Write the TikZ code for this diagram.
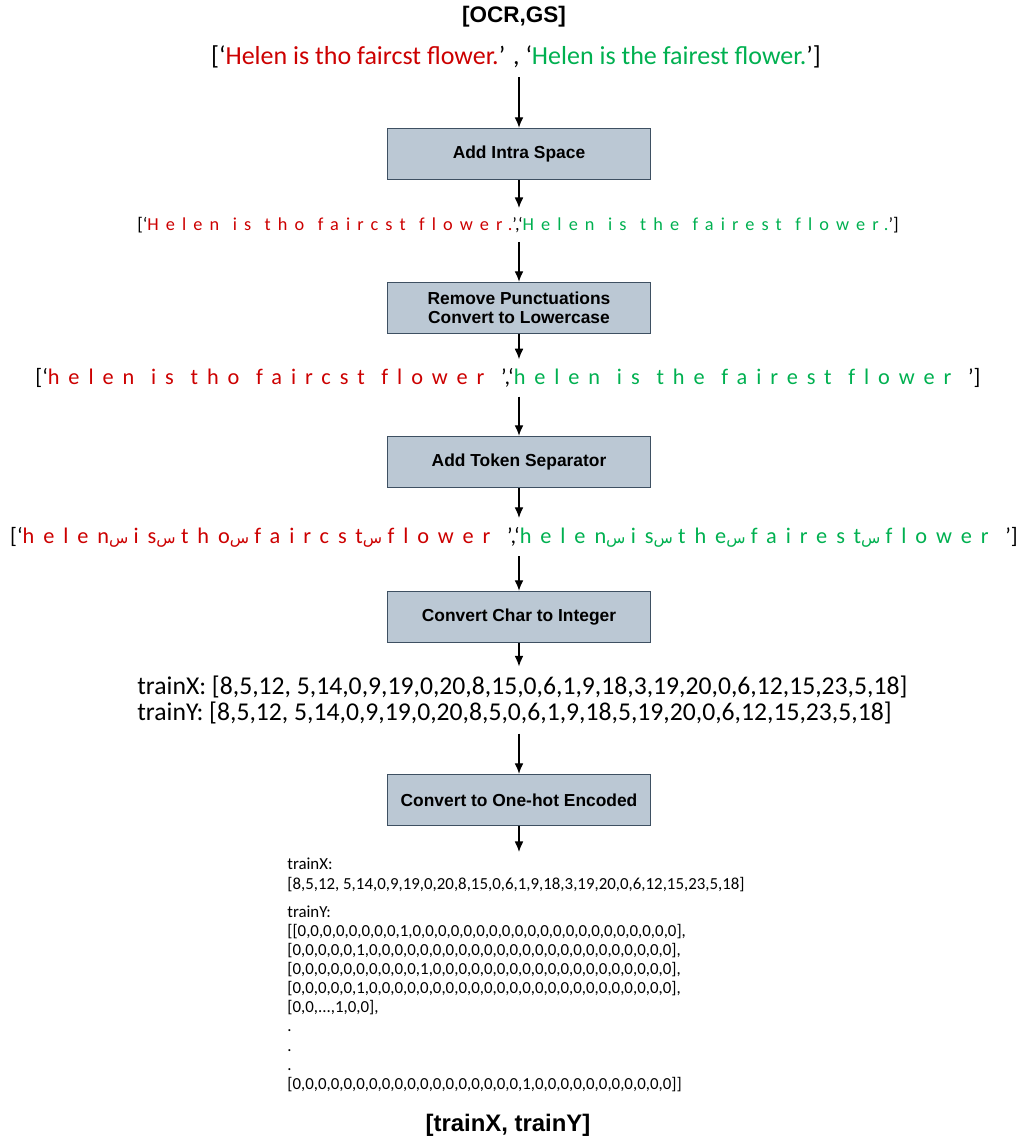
\documentclass[tikz,border=0pt]{standalone}
\usepackage{fontspec}
\usepackage{xcolor}
\usepackage{tikz}
\usetikzlibrary{arrows.meta}

\setmainfont{Carlito}
\newfontfamily\headfont{Liberation Sans}
\newfontfamily\spacedfont[LetterSpace=39, WordSpace=1.2, Ligatures=NoCommon]{Carlito}
\newfontfamily\widefont[LetterSpace=40, WordSpace=1.2, Ligatures=NoCommon]{Carlito}
\newfontfamily\arabicfont[Script=Arabic]{DejaVu Sans}
\TeXXeTstate=1

\definecolor{ocrred}{RGB}{204,0,0}
\definecolor{gsgreen}{RGB}{0,176,80}
\definecolor{boxfill}{RGB}{187,200,212}
\definecolor{boxline}{RGB}{62,80,98}

\newcommand{\ocrtext}[1]{\textcolor{ocrred}{#1}}
\newcommand{\gstext}[1]{\textcolor{gsgreen}{#1}}
\newcommand{\tokensep}{{\arabicfont\fontsize{9}{11}\selectfont\beginR س\endR}\hspace{3pt}}

\begin{document}
\begin{tikzpicture}[x=0.02cm, y=-0.02cm,
			box/.style={rectangle, draw=boxline, line width=0.8pt, fill=boxfill, minimum width=150pt, minimum height=29pt, inner sep=0pt, align=center, font=\headfont\bfseries\fontsize{9.9}{10.8}\selectfont},
			pair/.style={inner xsep=0pt, inner ysep=5pt, font=\fontsize{14.8}{17}\selectfont},
			spaced/.style={inner xsep=0pt, inner ysep=5pt, font=\fontsize{10.4}{12}\selectfont},
			widespaced/.style={spaced, font=\fontsize{12.7}{15}\selectfont},
			title/.style={inner sep=2pt, font=\headfont\bfseries\fontsize{12.8}{15}\selectfont},
			arrow/.style={-{Latex[length=6pt,width=5pt]}, line width=0.7pt, black}
		]
		\useasboundingbox (0,0) rectangle (1022,1137);

		% Input pair
		\node[title] (input) at (514,17) {[OCR,GS]};
		\node[pair] (raw) at (516,57) {[‘\ocrtext{Helen is tho faircst flower.}’ , ‘\gstext{Helen is the fairest flower.}’]};

		% Processing steps with the text after each one
		\node[box] (intra) at (519,154) {Add Intra Space};
		\node[spaced] (spaced) at (518,225) {[‘\ocrtext{\spacedfont Helen is tho faircst flower.}’,‘\gstext{\spacedfont Helen is the fairest flower.}’]};

		\node[box] (punct) at (519,308) {Remove Punctuations\\Convert to Lowercase};
		\node[widespaced] (lower) at (508,378) {[‘\ocrtext{\widefont helen is tho faircst flower\ }’,‘\gstext{\widefont helen is the fairest flower\ }’]};

		\node[box] (tokens) at (519,462) {Add Token Separator};
		\node[widespaced] (sep) at (514,537) {[‘\ocrtext{\widefont helen\tokensep is\tokensep tho\tokensep faircst\tokensep flower\ }’,‘\gstext{\widefont helen\tokensep is\tokensep the\tokensep fairest\tokensep flower\ }’]};

		\node[box] (toint) at (519,617) {Convert Char to Integer};
		\node[pair, anchor=west, align=left, font=\fontsize{14.6}{15.3}\selectfont] (ints) at (137,700) {trainX: [8,5,12, 5,14,0,9,19,0,20,8,15,0,6,1,9,18,3,19,20,0,6,12,15,23,5,18]\\trainY: [8,5,12, 5,14,0,9,19,0,20,8,5,0,6,1,9,18,5,19,20,0,6,12,15,23,5,18]};

		\node[box] (onehot) at (519,800) {Convert to One-hot Encoded};
		\node[anchor=north west, align=left, inner xsep=0pt, inner ysep=3.4pt, font=\fontsize{9.6}{10.9}\selectfont] (encoded) at (287,852) {trainX:\\
			{}[8,5,12, 5,14,0,9,19,0,20,8,15,0,6,1,9,18,3,19,20,0,6,12,15,23,5,18]\\[5pt]
			trainY:\\
			{}[[0,0,0,0,0,0,0,0,1,0,0,0,0,0,0,0,0,0,0,0,0,0,0,0,0,0,0,0,0,0],\\
			{}[0,0,0,0,0,1,0,0,0,0,0,0,0,0,0,0,0,0,0,0,0,0,0,0,0,0,0,0,0,0],\\
			{}[0,0,0,0,0,0,0,0,0,0,1,0,0,0,0,0,0,0,0,0,0,0,0,0,0,0,0,0,0,0],\\
			{}[0,0,0,0,0,1,0,0,0,0,0,0,0,0,0,0,0,0,0,0,0,0,0,0,0,0,0,0,0,0],\\
			{}[0,0,...,1,0,0],\\
			.\\
			.\\
			.\\
			{}[0,0,0,0,0,0,0,0,0,0,0,0,0,0,0,0,0,0,1,0,0,0,0,0,0,0,0,0,0,0]]};

		% Output
		\node[title, font=\headfont\bfseries\fontsize{13.6}{16}\selectfont] (output) at (508,1125) {[trainX, trainY]};

		% Arrows
		\draw[arrow] (intra.north |- raw.south) -- (intra.north);
		\draw[arrow] (intra.south) -- (intra.south |- spaced.north);
		\draw[arrow] (punct.north |- spaced.south) -- (punct.north);
		\draw[arrow] (punct.south) -- (punct.south |- lower.north);
		\draw[arrow] (tokens.north |- lower.south) -- (tokens.north);
		\draw[arrow] (tokens.south) -- (tokens.south |- sep.north);
		\draw[arrow] (toint.north |- sep.south) -- (toint.north);
		\draw[arrow] (toint.south) -- (toint.south |- ints.north);
		\draw[arrow] (onehot.north |- ints.south) -- (onehot.north);
		\draw[arrow] (onehot.south) -- (onehot.south |- encoded.north);

	\end{tikzpicture}
\end{document}
